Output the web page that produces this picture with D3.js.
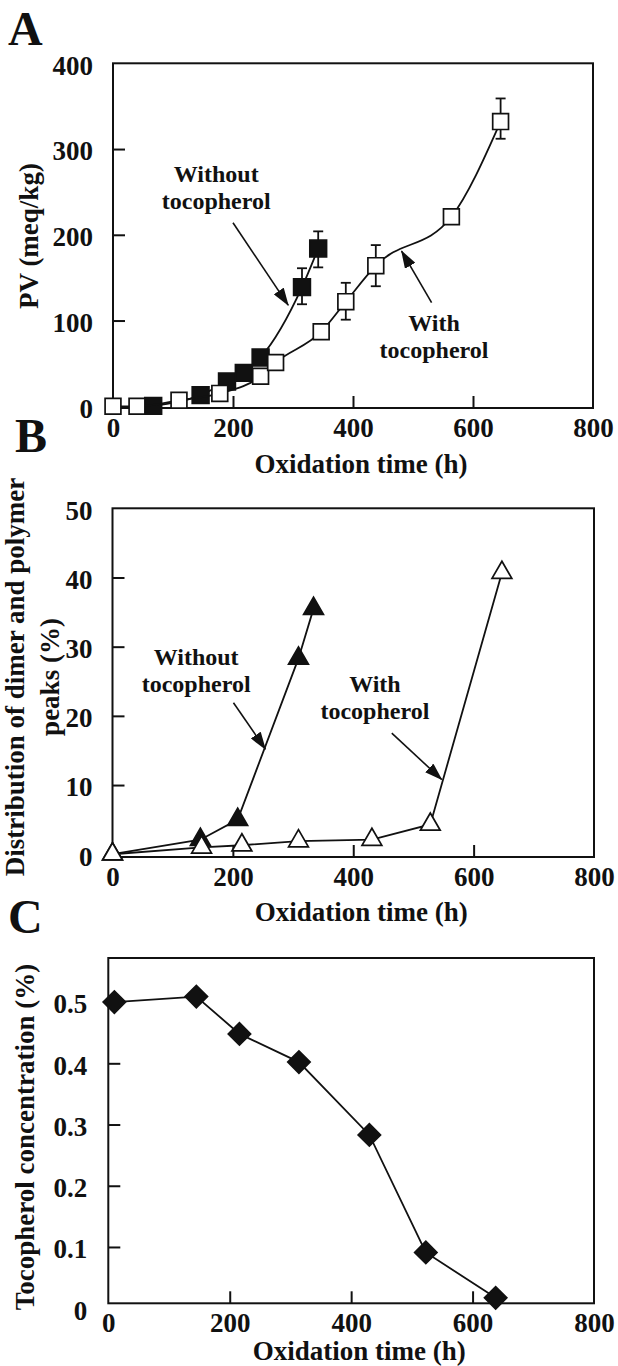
<!DOCTYPE html>
<html>
<head>
<meta charset="utf-8">
<script src="https://cdn.jsdelivr.net/npm/d3@7"></script>
<style>
  body { margin: 0; background: #fff; }
  text { font-family: "Liberation Serif", "Times New Roman", serif; font-weight: bold; fill: #111; }
</style>
</head>
<body>
<script>
// ---- data ----
const xTickLabels = [0, 200, 400, 600, 800];
const xTickMarks = [200, 400, 600];

// A: peroxide value
const pvTimeWithout = [67, 146, 190, 218, 246, 315, 342];
const pvWithout = [0.5, 13, 29, 39, 57, 139, 184];
const pvErrTimeWithout = [315, 342];
const pvErrLowWithout = [119, 162];
const pvErrHighWithout = [161, 204];

const pvTimeWith = [0, 40, 110, 178, 246, 271, 347, 388, 438, 564, 646];
const pvWith = [0, 0, 7, 15, 35, 51, 87, 122, 164, 221, 332];
const pvErrTimeWith = [388, 438, 646];
const pvErrLowWith = [101, 140, 312];
const pvErrHighWith = [144, 188, 359];
const pvTicks = [0, 100, 200, 300, 400];

// B: dimer and polymer peaks
const dimerTimeWithout = [0, 146, 208, 309, 334];
const dimerWithout = [0, 2.1, 5.0, 28.3, 35.5];
const dimerTimeWith = [0, 148, 215, 309, 431, 528, 647];
const dimerWith = [0, 1.0, 1.3, 1.9, 2.1, 4.3, 40.7];
const dimerTicks = [0, 10, 20, 30, 40, 50];

// C: tocopherol concentration
const tocoTime = [10, 145, 216, 314, 430, 523, 638];
const tocoConc = [0.50, 0.509, 0.448, 0.402, 0.283, 0.091, 0.017];
const tocoTicks = [0, 0.1, 0.2, 0.3, 0.4, 0.5];

const ink = '#111';
const svg = d3.select('body').append('svg')
  .attr('width', 618)
  .attr('height', 1366);

const defs = svg.append('defs');
defs.append('marker')
  .attr('id', 'head')
  .attr('viewBox', '0 0 18 12')
  .attr('refX', 17)
  .attr('refY', 6)
  .attr('markerWidth', 18)
  .attr('markerHeight', 12)
  .attr('markerUnits', 'userSpaceOnUse')
  .attr('orient', 'auto')
  .append('path')
  .attr('d', 'M0,0 L18,6 L0,12 Z')
  .attr('fill', ink);

const zip = (xs, ys) => xs.map((t, i) => [t, ys[i]]);

function drawPanel(o) {
  const x = d3.scaleLinear().domain([0, 800]).range(o.xr);
  const y = d3.scaleLinear().domain(o.yd).range(o.yr);
  const g = svg.append('g');

  // panel letter
  g.append('text')
    .attr('x', o.letterPos[0])
    .attr('y', o.letterPos[1])
    .attr('font-size', 48)
    .text(o.letter);

  // frame
  g.append('rect')
    .attr('x', o.xr[0])
    .attr('y', o.yr[1])
    .attr('width', o.xr[1] - o.xr[0])
    .attr('height', o.yr[0] - o.yr[1])
    .attr('fill', 'none')
    .attr('stroke', ink)
    .attr('stroke-width', 2);

  const styleAxis = sel => {
    sel.select('.domain').remove();
    sel.attr('font-family', null).attr('font-size', 27);
    sel.selectAll('line').attr('stroke', ink).attr('stroke-width', 2);
    sel.selectAll('text').attr('fill', ink);
  };

  // x labels and inward ticks
  g.append('g')
    .attr('transform', `translate(0,${o.yr[0]})`)
    .call(d3.axisBottom(x).tickValues(xTickLabels).tickSize(0).tickPadding(9.5).tickFormat(d3.format('d')))
    .call(styleAxis);
  g.append('g')
    .attr('transform', `translate(0,${o.yr[0]})`)
    .call(d3.axisBottom(x).tickValues(xTickMarks).tickSizeInner(-12).tickSizeOuter(0).tickFormat(''))
    .call(styleAxis);

  // y labels and inward ticks
  g.append('g')
    .attr('transform', `translate(${o.xr[0]},0)`)
    .call(d3.axisLeft(y).tickValues(o.yTicks).tickSize(0).tickPadding(o.yPad).tickFormat(o.yFmt))
    .call(styleAxis)
    .selectAll('text').attr('dy', '0.4em');
  g.append('g')
    .attr('transform', `translate(${o.xr[0]},0)`)
    .call(d3.axisLeft(y).tickValues(o.yTickMarks).tickSizeInner(-12).tickSizeOuter(0).tickFormat(''))
    .call(styleAxis);

  // axis titles
  g.append('text')
    .attr('x', (o.xr[0] + o.xr[1]) / 2 + 8)
    .attr('y', o.xTitleY)
    .attr('text-anchor', 'middle')
    .attr('font-size', 27)
    .text('Oxidation time (h)');

  o.yTitle.forEach((t, i) => {
    g.append('text')
      .attr('transform', `translate(${o.yTitleX[i]},${o.yTitleY}) rotate(-90)`)
      .attr('text-anchor', 'middle')
      .attr('font-size', 27)
      .text(t);
  });

  // annotations: one text element per label, lines as tspans
  o.notes.forEach(n => {
    const tx = g.append('text')
      .attr('x', x(n.at[0]))
      .attr('y', y(n.at[1]))
      .attr('text-anchor', 'middle')
      .attr('font-size', 24);
    n.lines.forEach((t, i) => {
      tx.append('tspan')
        .attr('x', x(n.at[0]))
        .attr('dy', i === 0 ? 0 : 27)
        .text(t);
    });
    g.append('line')
      .attr('x1', x(n.from[0])).attr('y1', y(n.from[1]))
      .attr('x2', x(n.to[0])).attr('y2', y(n.to[1]))
      .attr('stroke', ink)
      .attr('stroke-width', 1.6)
      .attr('marker-end', 'url(#head)');
  });

  // series
  o.series.forEach(s => {
    const pts = zip(s.t, s.v);
    g.append('path')
      .datum(pts)
      .attr('fill', 'none')
      .attr('stroke', ink)
      .attr('stroke-width', 1.8)
      .attr('d', d3.line().x(d => x(d[0])).y(d => y(d[1])).curve(s.curve || d3.curveLinear));

    if (s.errT) {
      const errs = s.errT.map((t, i) => ({ t, lo: s.errLo[i], hi: s.errHi[i] }));
      const eg = g.append('g').attr('stroke', ink).attr('stroke-width', 1.8);
      eg.selectAll('.bar').data(errs).join('line')
        .attr('x1', d => x(d.t)).attr('x2', d => x(d.t))
        .attr('y1', d => y(d.lo)).attr('y2', d => y(d.hi));
      eg.selectAll('.cap').data(errs.flatMap(d => [[d.t, d.lo], [d.t, d.hi]])).join('line')
        .attr('x1', d => x(d[0]) - 5).attr('x2', d => x(d[0]) + 5)
        .attr('y1', d => y(d[1])).attr('y2', d => y(d[1]));
    }

    g.append('g').selectAll('path')
      .data(pts)
      .join('path')
      .attr('d', d3.symbol(s.symbol, s.size))
      .attr('transform', d => `translate(${x(d[0])},${y(d[1])}) rotate(${s.rotate || 0})`)
      .attr('fill', s.filled ? ink : '#fff')
      .attr('stroke', ink)
      .attr('stroke-width', 1.7);
  });
}

// ---- panel A ----
drawPanel({
  letter: 'A', letterPos: [8, 45],
  xr: [113, 593], yd: [-2, 400], yr: [408, 63.3],
  yTicks: pvTicks, yTickMarks: [100, 200, 300], yFmt: d3.format('d'), yPad: 20,
  xTitleY: 473,
  yTitle: ['PV (meq/kg)'], yTitleX: [38], yTitleY: 236,
  notes: [
    { lines: ['Without', 'tocopherol'], at: [172, 262], from: [200, 214], to: [292, 118] },
    { lines: ['With', 'tocopherol'], at: [535, 88], from: [531, 121], to: [481, 181] }
  ],
  series: [
    { t: pvTimeWithout, v: pvWithout, filled: true, symbol: d3.symbolSquare, size: 280,
      curve: d3.curveMonotoneX, errT: pvErrTimeWithout, errLo: pvErrLowWithout, errHi: pvErrHighWithout },
    { t: pvTimeWith, v: pvWith, filled: false, symbol: d3.symbolSquare, size: 250,
      curve: d3.curveMonotoneX, errT: pvErrTimeWith, errLo: pvErrLowWith, errHi: pvErrHighWith }
  ]
});

// ---- panel B ----
drawPanel({
  letter: 'B', letterPos: [15, 452],
  xr: [112.5, 594], yd: [-0.4, 50], yr: [857, 508.3],
  yTicks: dimerTicks, yTickMarks: [10, 20, 30, 40], yFmt: d3.format('d'), yPad: 20,
  xTitleY: 921,
  yTitle: ['Distribution of dimer and polymer', 'peaks (%)'], yTitleX: [24, 59], yTitleY: 677,
  notes: [
    { lines: ['Without', 'tocopherol'], at: [139, 27.3], from: [201, 21.9], to: [254, 15.2] },
    { lines: ['With', 'tocopherol'], at: [436, 23.5], from: [464, 17.5], to: [547, 10.8] }
  ],
  series: [
    { t: dimerTimeWithout, v: dimerWithout, filled: true, symbol: d3.symbolTriangle, size: 170 },
    { t: dimerTimeWith, v: dimerWith, filled: false, symbol: d3.symbolTriangle, size: 170 }
  ]
});

// ---- panel C ----
drawPanel({
  letter: 'C', letterPos: [8, 933],
  xr: [108.3, 594], yd: [0.008, 0.572], yr: [1303.3, 958],
  yTicks: tocoTicks, yTickMarks: [0.1, 0.2, 0.3, 0.4, 0.5], yFmt: d => d === 0 ? '0' : d3.format('.1f')(d), yPad: 21,
  xTitleY: 1360,
  yTitle: ['Tocopherol concentration (%)'], yTitleX: [34], yTitleY: 1137,
  notes: [],
  series: [
    { t: tocoTime, v: tocoConc, filled: true, symbol: d3.symbolSquare, size: 250, rotate: 45 }
  ]
});
</script>
</body>
</html>
